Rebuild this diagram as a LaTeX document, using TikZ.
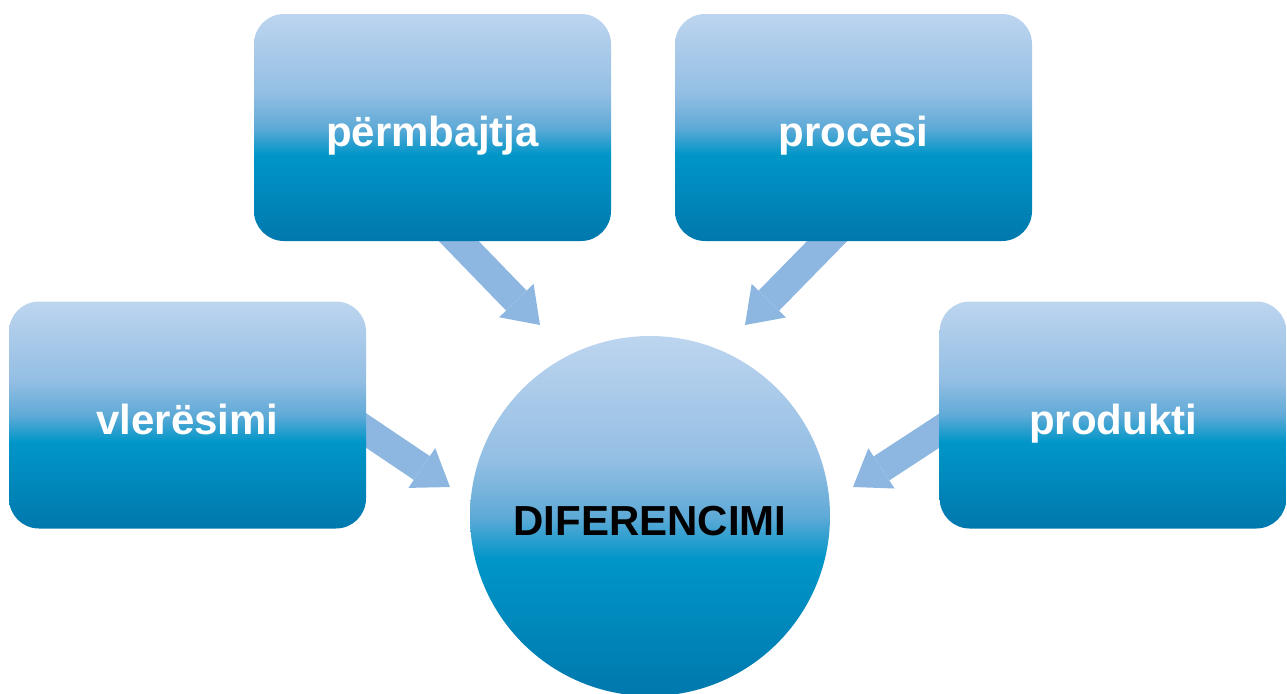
\documentclass[tikz,border=0pt]{standalone}
\usepackage{fontspec}
\setmainfont{Liberation Sans}
\usetikzlibrary{arrows.meta,backgrounds}
\definecolor{cLight}{HTML}{BDD5EF}
\definecolor{cLightB}{HTML}{93BEE3}
\definecolor{cLightC}{HTML}{5FAAD7}
\definecolor{cMid}{HTML}{0096C8}
\definecolor{cDark}{HTML}{0078AD}
\definecolor{cArrow}{HTML}{8DB7E1}
\pgfdeclareverticalshading{blueshade}{100bp}{color(0bp)=(cDark); color(25bp)=(cDark); color(44bp)=(cMid); color(50bp)=(cLightC); color(57.5bp)=(cLightB); color(75bp)=(cLight); color(100bp)=(cLight)}
\begin{document}
\begin{tikzpicture}[x=0.75pt,y=-0.75pt,
  lbl/.style={font=\bfseries\fontsize{31.5}{36}\selectfont, text height=29pt, text depth=0pt, inner sep=0pt},
  box/.style={lbl, rectangle, rounded corners=22.5pt, minimum width=267.75pt, minimum height=170.25pt, shading=blueshade, text=white},
  hub/.style={lbl, circle, minimum size=270pt, shading=blueshade, text=black},
  bigarrow/.style={draw=cArrow, line width=21.5pt, -{Triangle[length=25.5pt,width=36pt,line width=0pt]}}]
\useasboundingbox (0,0) rectangle (1287,693);
\node[box] (perm) at (432.5,127.5) {përmbajtja};
\node[box] (proc) at (853.5,127.5) {procesi};
\node[box] (vler) at (187.5,415) {vlerësimi};
\node[box, minimum width=260pt] (prod) at (1113,415) {produkti};
\node[hub] (dif) at (650,516) {DIFERENCIMI};
\coordinate (a1s) at (448,230); \coordinate (a1t) at (540,325);
\coordinate (a2s) at (838,230); \coordinate (a2t) at (745,325);
\coordinate (a3s) at (355,423); \coordinate (a3t) at (450,487);
\coordinate (a4s) at (951,423); \coordinate (a4t) at (853,487);
\begin{scope}[on background layer]
\draw[bigarrow] (a1s) -- (a1t);
\draw[bigarrow] (a2s) -- (a2t);
\draw[bigarrow] (a3s) -- (a3t);
\draw[bigarrow] (a4s) -- (a4t);
\end{scope}
\end{tikzpicture}
\end{document}
